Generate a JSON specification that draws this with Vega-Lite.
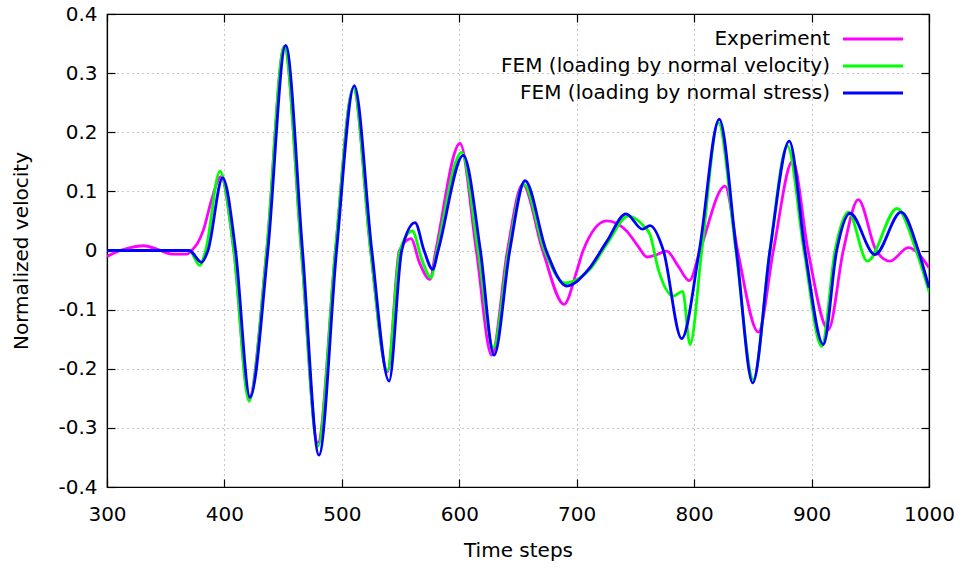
{
  "$schema": "https://vega.github.io/schema/vega-lite/v6.json",
  "width": 822,
  "height": 473,
  "autosize": {"type": "none"},
  "padding": {"left": 107, "top": 14, "right": 33, "bottom": 84},
  "background": "white",
  "config": {
    "font": "DejaVu Sans",
    "view": {"stroke": "black", "strokeWidth": 1.2},
    "axis": {
      "labelFont": "DejaVu Sans",
      "labelFontSize": 20,
      "labelColor": "black",
      "labelFlush": false,
      "titleFont": "DejaVu Sans",
      "titleFontSize": 20,
      "titleFontWeight": "normal",
      "titleColor": "black",
      "domainColor": "black",
      "domainWidth": 1.2,
      "tickColor": "black",
      "tickWidth": 1.2,
      "gridColor": "#8c8c8c",
      "gridDash": [1, 4],
      "gridWidth": 1
    },
    "legend": {
      "labelFont": "DejaVu Sans",
      "labelFontSize": 20,
      "labelColor": "black"
    }
  },
  "data": {
    "values": [
      {"s": "Experiment", "t": 300, "v": -0.010},
      {"s": "Experiment", "t": 311, "v": 0.0},
      {"s": "Experiment", "t": 320, "v": 0.005},
      {"s": "Experiment", "t": 331, "v": 0.008},
      {"s": "Experiment", "t": 342, "v": 0.003},
      {"s": "Experiment", "t": 355, "v": -0.006},
      {"s": "Experiment", "t": 368, "v": -0.006},
      {"s": "Experiment", "t": 373, "v": 0.002},
      {"s": "Experiment", "t": 377, "v": 0.012},
      {"s": "Experiment", "t": 382, "v": 0.034},
      {"s": "Experiment", "t": 389, "v": 0.085},
      {"s": "Experiment", "t": 397, "v": 0.125},
      {"s": "Experiment", "t": 408, "v": 0.0},
      {"s": "Experiment", "t": 421, "v": -0.250},
      {"s": "Experiment", "t": 436, "v": 0.0},
      {"s": "Experiment", "t": 451, "v": 0.345},
      {"s": "Experiment", "t": 465.5, "v": 0.0},
      {"s": "Experiment", "t": 479.5, "v": -0.325},
      {"s": "Experiment", "t": 494.5, "v": 0.0},
      {"s": "Experiment", "t": 509.8, "v": 0.275},
      {"s": "Experiment", "t": 524.5, "v": 0.0},
      {"s": "Experiment", "t": 539, "v": -0.205},
      {"s": "Experiment", "t": 549, "v": 0.0},
      {"s": "Experiment", "t": 558.9, "v": 0.020},
      {"s": "Experiment", "t": 566, "v": -0.020},
      {"s": "Experiment", "t": 575, "v": -0.049},
      {"s": "Experiment", "t": 580, "v": 0.0},
      {"s": "Experiment", "t": 600.6, "v": 0.181},
      {"s": "Experiment", "t": 614.5, "v": 0.0},
      {"s": "Experiment", "t": 627.6, "v": -0.177},
      {"s": "Experiment", "t": 641, "v": 0.0},
      {"s": "Experiment", "t": 654, "v": 0.112},
      {"s": "Experiment", "t": 671, "v": 0.0},
      {"s": "Experiment", "t": 689.2, "v": -0.091},
      {"s": "Experiment", "t": 700, "v": -0.035},
      {"s": "Experiment", "t": 705.5, "v": 0.0},
      {"s": "Experiment", "t": 725.5, "v": 0.050},
      {"s": "Experiment", "t": 742.5, "v": 0.033},
      {"s": "Experiment", "t": 752, "v": 0.008},
      {"s": "Experiment", "t": 760, "v": -0.011},
      {"s": "Experiment", "t": 767, "v": -0.008},
      {"s": "Experiment", "t": 776.6, "v": -0.001},
      {"s": "Experiment", "t": 786, "v": -0.025},
      {"s": "Experiment", "t": 795.9, "v": -0.051},
      {"s": "Experiment", "t": 805, "v": 0.0},
      {"s": "Experiment", "t": 826.3, "v": 0.109},
      {"s": "Experiment", "t": 837, "v": 0.0},
      {"s": "Experiment", "t": 854.7, "v": -0.138},
      {"s": "Experiment", "t": 867.5, "v": 0.0},
      {"s": "Experiment", "t": 883.9, "v": 0.151},
      {"s": "Experiment", "t": 897, "v": 0.0},
      {"s": "Experiment", "t": 914.3, "v": -0.134},
      {"s": "Experiment", "t": 927, "v": 0.0},
      {"s": "Experiment", "t": 939.8, "v": 0.086},
      {"s": "Experiment", "t": 955, "v": 0.0},
      {"s": "Experiment", "t": 966.8, "v": -0.018},
      {"s": "Experiment", "t": 982.4, "v": 0.005},
      {"s": "Experiment", "t": 1000, "v": -0.029},

      {"s": "FEM (loading by normal velocity)", "t": 300, "v": 0.0},
      {"s": "FEM (loading by normal velocity)", "t": 370, "v": 0.0},
      {"s": "FEM (loading by normal velocity)", "t": 379, "v": -0.025},
      {"s": "FEM (loading by normal velocity)", "t": 384, "v": 0.0},
      {"s": "FEM (loading by normal velocity)", "t": 396.2, "v": 0.134},
      {"s": "FEM (loading by normal velocity)", "t": 408, "v": 0.0},
      {"s": "FEM (loading by normal velocity)", "t": 421, "v": -0.255},
      {"s": "FEM (loading by normal velocity)", "t": 436, "v": 0.0},
      {"s": "FEM (loading by normal velocity)", "t": 451, "v": 0.345},
      {"s": "FEM (loading by normal velocity)", "t": 465.5, "v": 0.0},
      {"s": "FEM (loading by normal velocity)", "t": 479.7, "v": -0.331},
      {"s": "FEM (loading by normal velocity)", "t": 494.5, "v": 0.0},
      {"s": "FEM (loading by normal velocity)", "t": 509.8, "v": 0.275},
      {"s": "FEM (loading by normal velocity)", "t": 524.5, "v": 0.0},
      {"s": "FEM (loading by normal velocity)", "t": 538.7, "v": -0.203},
      {"s": "FEM (loading by normal velocity)", "t": 549.5, "v": 0.0},
      {"s": "FEM (loading by normal velocity)", "t": 560, "v": 0.033},
      {"s": "FEM (loading by normal velocity)", "t": 568, "v": -0.015},
      {"s": "FEM (loading by normal velocity)", "t": 575.9, "v": -0.046},
      {"s": "FEM (loading by normal velocity)", "t": 581, "v": 0.0},
      {"s": "FEM (loading by normal velocity)", "t": 602, "v": 0.166},
      {"s": "FEM (loading by normal velocity)", "t": 616, "v": 0.0},
      {"s": "FEM (loading by normal velocity)", "t": 629, "v": -0.164},
      {"s": "FEM (loading by normal velocity)", "t": 642, "v": 0.0},
      {"s": "FEM (loading by normal velocity)", "t": 655, "v": 0.112},
      {"s": "FEM (loading by normal velocity)", "t": 672.5, "v": 0.0},
      {"s": "FEM (loading by normal velocity)", "t": 690, "v": -0.055},
      {"s": "FEM (loading by normal velocity)", "t": 702.8, "v": -0.046},
      {"s": "FEM (loading by normal velocity)", "t": 712, "v": -0.030},
      {"s": "FEM (loading by normal velocity)", "t": 726, "v": 0.012},
      {"s": "FEM (loading by normal velocity)", "t": 744, "v": 0.058},
      {"s": "FEM (loading by normal velocity)", "t": 756.7, "v": 0.042},
      {"s": "FEM (loading by normal velocity)", "t": 762.4, "v": 0.027},
      {"s": "FEM (loading by normal velocity)", "t": 769.5, "v": -0.032},
      {"s": "FEM (loading by normal velocity)", "t": 782.3, "v": -0.077},
      {"s": "FEM (loading by normal velocity)", "t": 790.2, "v": -0.069},
      {"s": "FEM (loading by normal velocity)", "t": 796.5, "v": -0.159},
      {"s": "FEM (loading by normal velocity)", "t": 806.5, "v": 0.0},
      {"s": "FEM (loading by normal velocity)", "t": 820.6, "v": 0.216},
      {"s": "FEM (loading by normal velocity)", "t": 835.5, "v": 0.0},
      {"s": "FEM (loading by normal velocity)", "t": 850.4, "v": -0.218},
      {"s": "FEM (loading by normal velocity)", "t": 864.5, "v": 0.0},
      {"s": "FEM (loading by normal velocity)", "t": 879.4, "v": 0.177},
      {"s": "FEM (loading by normal velocity)", "t": 893.5, "v": 0.0},
      {"s": "FEM (loading by normal velocity)", "t": 908.6, "v": -0.162},
      {"s": "FEM (loading by normal velocity)", "t": 920, "v": 0.0},
      {"s": "FEM (loading by normal velocity)", "t": 931.3, "v": 0.065},
      {"s": "FEM (loading by normal velocity)", "t": 947.5, "v": -0.018},
      {"s": "FEM (loading by normal velocity)", "t": 972.8, "v": 0.071},
      {"s": "FEM (loading by normal velocity)", "t": 989, "v": 0.0},
      {"s": "FEM (loading by normal velocity)", "t": 1000, "v": -0.069},

      {"s": "FEM (loading by normal stress)", "t": 300, "v": 0.0},
      {"s": "FEM (loading by normal stress)", "t": 370, "v": 0.0},
      {"s": "FEM (loading by normal stress)", "t": 380.5, "v": -0.020},
      {"s": "FEM (loading by normal stress)", "t": 386, "v": 0.0},
      {"s": "FEM (loading by normal stress)", "t": 398.5, "v": 0.123},
      {"s": "FEM (loading by normal stress)", "t": 409.5, "v": 0.0},
      {"s": "FEM (loading by normal stress)", "t": 421.8, "v": -0.248},
      {"s": "FEM (loading by normal stress)", "t": 437, "v": 0.0},
      {"s": "FEM (loading by normal stress)", "t": 452.2, "v": 0.347},
      {"s": "FEM (loading by normal stress)", "t": 466.5, "v": 0.0},
      {"s": "FEM (loading by normal stress)", "t": 480.5, "v": -0.346},
      {"s": "FEM (loading by normal stress)", "t": 495.5, "v": 0.0},
      {"s": "FEM (loading by normal stress)", "t": 510.6, "v": 0.279},
      {"s": "FEM (loading by normal stress)", "t": 525.5, "v": 0.0},
      {"s": "FEM (loading by normal stress)", "t": 540.2, "v": -0.221},
      {"s": "FEM (loading by normal stress)", "t": 551, "v": 0.0},
      {"s": "FEM (loading by normal stress)", "t": 562.3, "v": 0.047},
      {"s": "FEM (loading by normal stress)", "t": 570, "v": 0.0},
      {"s": "FEM (loading by normal stress)", "t": 577.3, "v": -0.032},
      {"s": "FEM (loading by normal stress)", "t": 582, "v": 0.0},
      {"s": "FEM (loading by normal stress)", "t": 603.4, "v": 0.161},
      {"s": "FEM (loading by normal stress)", "t": 618, "v": 0.0},
      {"s": "FEM (loading by normal stress)", "t": 629.6, "v": -0.177},
      {"s": "FEM (loading by normal stress)", "t": 643, "v": 0.0},
      {"s": "FEM (loading by normal stress)", "t": 656, "v": 0.118},
      {"s": "FEM (loading by normal stress)", "t": 674, "v": 0.0},
      {"s": "FEM (loading by normal stress)", "t": 691.5, "v": -0.060},
      {"s": "FEM (loading by normal stress)", "t": 710, "v": -0.032},
      {"s": "FEM (loading by normal stress)", "t": 725.5, "v": 0.015},
      {"s": "FEM (loading by normal stress)", "t": 742, "v": 0.062},
      {"s": "FEM (loading by normal stress)", "t": 756, "v": 0.036},
      {"s": "FEM (loading by normal stress)", "t": 762.4, "v": 0.042},
      {"s": "FEM (loading by normal stress)", "t": 773.8, "v": 0.0},
      {"s": "FEM (loading by normal stress)", "t": 789.4, "v": -0.149},
      {"s": "FEM (loading by normal stress)", "t": 804.4, "v": 0.0},
      {"s": "FEM (loading by normal stress)", "t": 821.4, "v": 0.222},
      {"s": "FEM (loading by normal stress)", "t": 836, "v": 0.0},
      {"s": "FEM (loading by normal stress)", "t": 849.9, "v": -0.224},
      {"s": "FEM (loading by normal stress)", "t": 864.6, "v": 0.0},
      {"s": "FEM (loading by normal stress)", "t": 881, "v": 0.185},
      {"s": "FEM (loading by normal stress)", "t": 894.4, "v": 0.0},
      {"s": "FEM (loading by normal stress)", "t": 910, "v": -0.159},
      {"s": "FEM (loading by normal stress)", "t": 921.4, "v": 0.0},
      {"s": "FEM (loading by normal stress)", "t": 932.7, "v": 0.063},
      {"s": "FEM (loading by normal stress)", "t": 954, "v": -0.007},
      {"s": "FEM (loading by normal stress)", "t": 976.2, "v": 0.065},
      {"s": "FEM (loading by normal stress)", "t": 990.9, "v": 0.0},
      {"s": "FEM (loading by normal stress)", "t": 1000, "v": -0.063}
    ]
  },
  "layer": [
    {
      "mark": {"type": "line", "interpolate": "monotone", "strokeWidth": 2.8, "clip": true},
      "encoding": {
        "x": {
          "field": "t", "type": "quantitative",
          "scale": {"domain": [300, 1000], "nice": false, "zero": false},
          "axis": {
            "orient": "bottom",
            "values": [300, 400, 500, 600, 700, 800, 900, 1000],
            "labelExpr": "toString(datum.value)",
            "grid": true, "tickSize": -8, "labelPadding": 25,
            "title": "Time steps", "titlePadding": 16
          }
        },
        "y": {
          "field": "v", "type": "quantitative",
          "scale": {"domain": [-0.4, 0.4], "nice": false, "zero": false},
          "axis": {
            "orient": "left",
            "values": [-0.4, -0.3, -0.2, -0.1, 0, 0.1, 0.2, 0.3, 0.4],
            "labelExpr": "toString(round(datum.value*10)/10)",
            "grid": true, "tickSize": -8, "labelPadding": 18,
            "title": "Normalized velocity", "titlePadding": 26
          }
        },
        "color": {
          "field": "s", "type": "nominal",
          "scale": {
            "domain": ["Experiment", "FEM (loading by normal velocity)", "FEM (loading by normal stress)"],
            "range": ["#ff00ff", "#00ff00", "#0000ff"]
          },
          "legend": {
            "title": null,
            "orient": "none",
            "legendX": 726,
            "legendY": 15,
            "padding": 0,
            "symbolType": "M-6,0L6,0",
            "symbolSize": 100,
            "symbolStrokeWidth": 2.8,
            "symbolFillColor": "transparent",
            "symbolOffset": 30,
            "labelAlign": "right",
            "labelOffset": -53,
            "labelLimit": 600,
            "rowPadding": 7
          }
        }
      }
    },
    {
      "mark": {"type": "line", "opacity": 0},
      "encoding": {
        "x": {
          "field": "t", "type": "quantitative",
          "axis": {
            "orient": "top", "values": [300, 400, 500, 600, 700, 800, 900, 1000],
            "labels": false, "grid": false, "tickSize": -8, "title": null
          }
        },
        "y": {
          "field": "v", "type": "quantitative",
          "axis": {
            "orient": "right", "values": [-0.4, -0.3, -0.2, -0.1, 0, 0.1, 0.2, 0.3, 0.4],
            "labels": false, "grid": false, "tickSize": -8, "title": null
          }
        },
        "detail": {"field": "s", "type": "nominal"}
      }
    }
  ],
  "resolve": {"axis": {"x": "independent", "y": "independent"}}
}
